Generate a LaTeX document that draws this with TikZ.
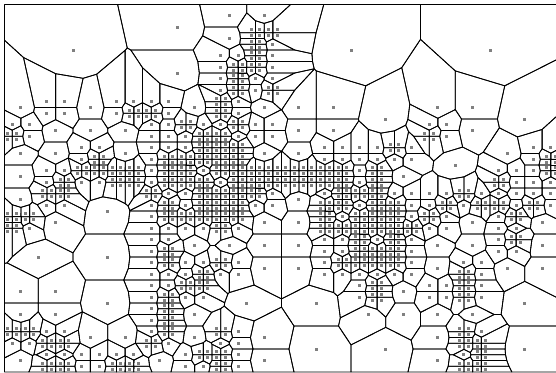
\documentclass[tikz,border=0pt]{standalone}
\usepackage{tikz}

\newcount\mapcol \newcount\maprow \newcount\nsite
\newcount\cellfn \newcount\prevfn \newcount\prevx \newcount\prevy
\newcount\sidex \newcount\sidey \newcount\sidec
\newcount\reach \newcount\gap \newcount\othersite

% sites, in sixteenths of a pixel
\def\addsite#1#2{\global\advance\nsite 1
  \expandafter\xdef\csname sx\the\nsite\endcsname{\the\numexpr#1\relax}%
  \expandafter\xdef\csname sy\the\nsite\endcsname{\the\numexpr#2\relax}}
\def\addblock#1{%
  \ifnum\numexpr\mapcol/#1*#1\relax=\mapcol
    \ifnum\numexpr\maprow/#1*#1\relax=\maprow
      \addsite{56+\mapcol*278+#1*139}{64+\maprow*184+#1*92}%
    \fi
  \fi}
\def\addfour{%
  \addsite{56+\mapcol*278+70}{64+\maprow*184+46}%
  \addsite{56+\mapcol*278+209}{64+\maprow*184+46}%
  \addsite{56+\mapcol*278+70}{64+\maprow*184+138}%
  \addsite{56+\mapcol*278+209}{64+\maprow*184+138}}
\def\placecell#1{\ifcase#1\or\or\addblock{8}\or\addblock{4}\or\addblock{2}\or\addblock{1}\or\addfour\fi}
\def\readcell#1{\ifx#1\relax\else\placecell#1\advance\mapcol 1 \expandafter\readcell\fi}
\def\readrow#1{\mapcol=0 \readcell#1\relax\advance\maprow 1 }

\readrow{22222222333344442222222222222222}
\readrow{22222222333344442222222222222222}
\readrow{22222222333344662222222222222222}
\readrow{22222222333344652222222222222222}
\readrow{22222222333355652222222222222222}
\readrow{22222222333356652222222222222222}
\readrow{22222222333356552222222222222222}
\readrow{22222222333356562222222222222222}
\readrow{44554455554465444444333344443333}
\readrow{44554456654465444444333344443333}
\readrow{55444444556556554444333355443333}
\readrow{65444444555665554444333365443333}
\readrow{44445544555666444455556533334455}
\readrow{44445644566666444455555533334456}
\readrow{44556666566566666666564433335556}
\readrow{44565566566656666666564433336555}
\readrow{44663333655666654456665555655555}
\readrow{44553333565666554466566556566565}
\readrow{66443333566666444465666565445644}
\readrow{65443333555565444466666655445544}
\readrow{33333333554444444455656544445644}
\readrow{33333333564444444455666544445544}
\readrow{33333333565565444456666544554444}
\readrow{33333333555655444455555544654444}
\readrow{44443333556633333333564455653333}
\readrow{44443333565533333333564455653333}
\readrow{44443333564433333333444444443333}
\readrow{44443333564433333333444444443333}
\readrow{66554444564465443333333344653333}
\readrow{55664444654455443333333344663333}
\readrow{44555555445665443333333344563333}
\readrow{44665566445565443333333344663333}

% one cell, cut down from the whole frame
\def\addvertex#1#2{%
  \edef\lastx{\the\numexpr#1\relax}\edef\lasty{\the\numexpr#2\relax}%
  \edef\newpoly{\unexpanded\expandafter{\newpoly}\noexpand\V{\lastx}{\lasty}}}
\def\addcross#1#2{\addvertex
  {\prevx+(#1-\prevx)*\prevfn/(\prevfn-\cellfn)}%
  {\prevy+(#2-\prevy)*\prevfn/(\prevfn-\cellfn)}}
\def\clipvertex#1#2{%
  \cellfn=\numexpr\sidex*#1+\sidey*#2-\sidec\relax
  \ifnum\cellfn>0
    \ifnum\prevfn>0 \else\addcross{#1}{#2}\fi
  \else
    \ifnum\prevfn>0 \addcross{#1}{#2}\fi
    \addvertex{#1}{#2}%
  \fi
  \prevx=#1 \prevy=#2 \prevfn=\cellfn}
\def\reachvertex#1#2{%
  \gap=\numexpr(#1-\ax)*(#1-\ax)+(#2-\ay)*(#2-\ay)\relax
  \ifnum\gap>\reach \reach=\gap\fi}
\def\clipcell{%
  \sidex=\numexpr2*(\bx-\ax)\relax \sidey=\numexpr2*(\by-\ay)\relax
  \sidec=\numexpr\bx*\bx+\by*\by-\ax*\ax-\ay*\ay\relax
  \def\newpoly{}\prevx=\lastx \prevy=\lasty
  \prevfn=\numexpr\sidex*\prevx+\sidey*\prevy-\sidec\relax
  \let\V\clipvertex \poly \let\poly\newpoly
  \reach=0 \let\V\reachvertex \poly}
\def\scansites{%
  \ifnum\othersite>\nsite\else
    \edef\bx{\csname sx\the\othersite\endcsname}%
    \edef\by{\csname sy\the\othersite\endcsname}%
    \ifnum\numexpr(\bx-\ax)*(\bx-\ax)+(\by-\ay)*(\by-\ay)\relax<\numexpr4*\reach\relax
      \ifnum\othersite=\thiscell\else\clipcell\fi
    \fi
    \advance\othersite 1 \expandafter\scansites
  \fi}
\def\pathvertex#1#2{(\the\dimexpr#1pt/16\relax,\the\dimexpr-#2pt/16\relax) -- }
\def\cellpath#1{%
  \edef\thiscell{#1}%
  \edef\ax{\csname sx#1\endcsname}\edef\ay{\csname sy#1\endcsname}%
  \def\poly{\V{72}{72}\V{8960}{72}\V{8960}{5952}\V{72}{5952}}%
  \def\lastx{72}\def\lasty{5952}\reach=100000000 \othersite=1 \scansites
  \let\V\pathvertex}
\edef\lastsite{\the\nsite}

\begin{document}
\begin{tikzpicture}[
        cellline/.style={draw=black, line width=0.8pt, line join=round},
        sitedot/.style={fill=gray}
    ]

    \useasboundingbox (0,0) rectangle (556pt,-372pt);
    \clip (0,0) rectangle (556pt,-372pt);

    \foreach \cellid in {1,...,\lastsite} {
        \cellpath{\cellid}
        \edef\cellshape{\noexpand\draw[cellline] \poly cycle;}
        \cellshape
    }
    \foreach \cellid in {1,...,\lastsite} {
        \edef\dotx{\the\numexpr(\csname sx\cellid\endcsname-8)/16-1\relax}
        \edef\doty{\the\numexpr-2-(\csname sy\cellid\endcsname-8)/16\relax}
        \fill[sitedot] (\dotx pt,\doty pt) rectangle ++(3pt,3pt);
    }

\end{tikzpicture}
\end{document}
